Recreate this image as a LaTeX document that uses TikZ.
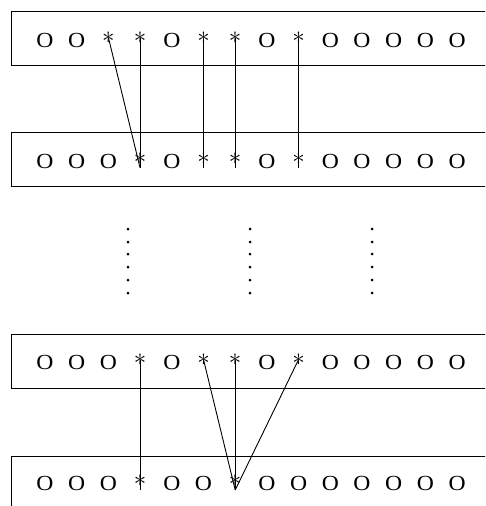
\documentclass[tikz,border=0pt]{standalone}
\usepackage{fontspec}
\setmainfont{Liberation Serif}[FakeStretch=1.1]
\begin{document}
\begin{tikzpicture}[x=1pt,y=-1pt,
  ocell/.style={inner sep=0pt,anchor=base,font=\fontsize{21.5}{22}\selectfont},
  scell/.style={inner xsep=0pt,inner ysep=3.5pt,anchor=center,font=\fontsize{28}{28}\selectfont},
  box/.style={draw,line width=1pt},
  link/.style={line width=0.9pt},
  vdot/.style={fill=black}]
\useasboundingbox (0,0) rectangle (485,506);
\begin{scope}
\clip (0,0) rectangle (485,506);
\draw[box] (500,11) -- (11,11) -- (11,65) -- (500,65);
\draw[box] (500,132) -- (11,132) -- (11,186) -- (500,186);
\draw[box] (500,334) -- (11,334) -- (11,388) -- (500,388);
\draw[box] (500,456) -- (11,456) -- (11,510);
\end{scope}
% rows
\foreach \row/\y/\txt in {
  1/47/{O,O,*,*,O,*,*,O,*,O,O,O,O,O},
  2/168/{O,O,O,*,O,*,*,O,*,O,O,O,O,O},
  3/369/{O,O,O,*,O,*,*,O,*,O,O,O,O,O},
  4/490/{O,O,O,*,O,O,*,O,O,O,O,O,O,O}} {
  \foreach \c [count=\i] in \txt {
    \if\c*
      \node[scell] (r\row c\i) at ({45+31.7*(\i-1)},\y-9.5) {$\ast$};
    \else
      \node[ocell] (r\row c\i) at ({45+31.7*(\i-1)},\y) {\c};
    \fi
  }
}
% connectors rows 1 -> 2
\draw[link] (r1c3.center) -- (r2c4.south);
\draw[link] (r1c4.center) -- (r2c4.south);
\draw[link] (r1c6.center) -- (r2c6.south);
\draw[link] (r1c7.center) -- (r2c7.south);
\draw[link] (r1c9.center) -- (r2c9.south);
% connectors rows 3 -> 4
\draw[link] (r3c4.center) -- (r4c4.south);
\draw[link] (r3c6.center) -- (r4c7.south);
\draw[link] (r3c7.center) -- (r4c7.south);
\draw[link] (r3c9.center) -- (r4c7.south);
% vertical dots
\foreach \x in {128,250,372} {
  \foreach \y in {229,242,254,267,280,293} {
    \fill[vdot] (\x,\y) circle (1.5);
  }
}
\end{tikzpicture}
\end{document}
